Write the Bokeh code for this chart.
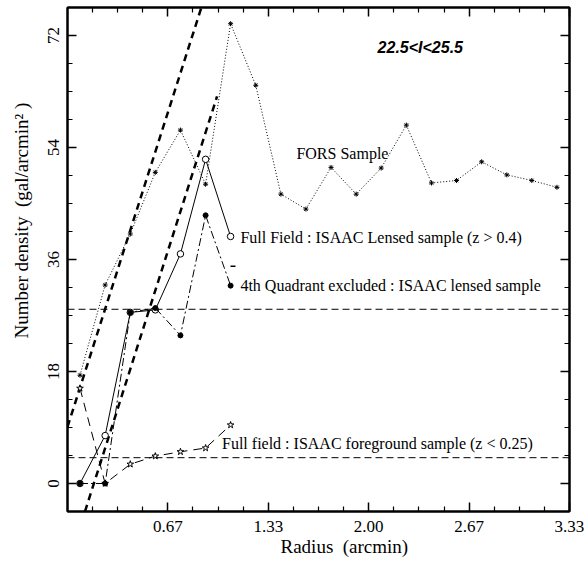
from bokeh.plotting import figure
from bokeh.models import Range1d, LinearAxis, FixedTicker, NumeralTickFormatter, Label, Span, Title
from bokeh.embed import file_html
from bokeh.resources import INLINE

# ---------------- data ----------------
radius = [0.083, 0.25, 0.417, 0.583, 0.75, 0.917, 1.083, 1.25, 1.417, 1.583,
          1.75, 1.917, 2.083, 2.25, 2.417, 2.583, 2.75, 2.917, 3.083, 3.25]
fors_density = [17.4, 31.9, 40.1, 50.0, 56.8, 48.1, 73.9, 64.0, 46.5, 44.1,
                50.8, 46.5, 50.7, 57.6, 48.3, 48.7, 51.7, 49.6, 48.7, 47.6]

isaac_radius = [0.083, 0.25, 0.417, 0.583, 0.75, 0.917, 1.083]
lensed_full = [0.0, 7.7, 27.5, 27.9, 36.9, 52.1, 39.7]
lensed_q4 = [0.0, 0.0, 27.5, 28.2, 23.8, 43.1, 31.8]
foreground = [15.3, 0.0, 3.1, 4.4, 5.1, 5.7, 9.4]

lensed_level = 28.0
foreground_level = 4.15

fit_a_x = [0.0, 0.889]
fit_a_y = [9.1, 76.5]
fit_b_x = [0.116, 0.993]
fit_b_y = [-4.5, 62.2]

mark_x = [1.099]
mark_y = [34.9]

x_major = [0.6667, 1.3333, 2.0, 2.6667, 3.3333]
x_minor = [0.1667, 0.3333, 0.5, 0.8333, 1.0, 1.1667, 1.5, 1.6667, 1.8333,
           2.1667, 2.3333, 2.5, 2.8333, 3.0, 3.1667]
y_major = [0, 18, 36, 54, 72]
y_minor = [-4.5, 4.5, 9, 13.5, 22.5, 27, 31.5, 40.5, 45, 49.5, 58.5, 63, 67.5, 76.5]

NB = "\u00a0"
title_text = "22.5<I<25.5"
fors_label = "FORS Sample"
full_label = "Full Field : ISAAC Lensed sample (z > 0.4)"
q4_label = "4th Quadrant excluded : ISAAC lensed sample"
fg_label = "Full field : ISAAC foreground sample (z < 0.25)"
x_label = "Radius" + NB + NB + "(arcmin)"
y_label = "Number density" + NB + NB + "(gal/arcmin\u00b2" + NB + ")"

SERIF = "Liberation Serif"

# ---------------- figure ----------------
p = figure(width=587, height=563, x_range=Range1d(0, 10 / 3), y_range=Range1d(-4.5, 76.5),
           output_backend="svg", toolbar_location=None,
           min_border_left=67, min_border_right=18, min_border_top=7, min_border_bottom=52)
p.xgrid.visible = False
p.ygrid.visible = False
p.outline_line_color = "black"
p.outline_line_width = 2
p.background_fill_color = "white"
p.border_fill_color = "white"


def style_axis(ax, show):
    ax.axis_line_color = "black"
    ax.axis_line_width = 2
    ax.major_tick_in = 9
    ax.major_tick_out = 0
    ax.minor_tick_in = 5
    ax.minor_tick_out = 0
    ax.major_tick_line_width = 1.5
    ax.minor_tick_line_width = 1.2
    ax.major_tick_line_color = "black"
    ax.minor_tick_line_color = "black"
    if show:
        ax.major_label_text_font = SERIF
        ax.major_label_text_font_size = "17px"
        ax.major_label_text_color = "black"
    else:
        ax.major_label_text_font_size = "1px"
        ax.major_label_text_color = None
        ax.major_label_standoff = 0


xa = p.xaxis[0]
xa.ticker = FixedTicker(ticks=x_major, minor_ticks=x_minor)
xa.formatter = NumeralTickFormatter(format="0.00")
xa.major_label_standoff = 9
style_axis(xa, True)

ya = p.yaxis[0]
ya.ticker = FixedTicker(ticks=y_major, minor_ticks=y_minor)
ya.major_label_orientation = "vertical"
ya.major_label_standoff = 9
style_axis(ya, True)

top = LinearAxis(ticker=FixedTicker(ticks=x_major, minor_ticks=x_minor))
style_axis(top, False)
p.add_layout(top, "above")
right = LinearAxis(ticker=FixedTicker(ticks=y_major, minor_ticks=y_minor))
style_axis(right, False)
p.add_layout(right, "right")

# axis titles (placed off-centre, as in the original)
p.add_layout(Title(text=x_label, align="left", offset=213, vertical_align="top", standoff=2,
                   text_font=SERIF, text_font_size="19px", text_font_style="normal",
                   text_color="black"), "below")
p.add_layout(Title(text=y_label, align="left", offset=173, vertical_align="top", standoff=21,
                   text_font=SERIF, text_font_size="19px", text_font_style="normal",
                   text_color="black"), "left")

# ---------------- glyphs ----------------
p.add_layout(Span(location=lensed_level, dimension="width", line_color="black",
                  line_width=1, line_dash="7 4"))
p.add_layout(Span(location=foreground_level, dimension="width", line_color="black",
                  line_width=1, line_dash="7 4"))

p.line(fit_a_x, fit_a_y, line_color="black", line_width=2.5, line_dash="7 5")
p.line(fit_b_x, fit_b_y, line_color="black", line_width=2.5, line_dash="7 5")

p.line(radius, fors_density, line_color="black", line_width=1, line_dash="1 2")
p.scatter(radius, fors_density, marker="asterisk", size=5, line_color="black", line_width=1)

p.line(isaac_radius, foreground, line_color="black", line_width=1, line_dash="9 6")
p.scatter(isaac_radius, foreground, marker="star", size=7, line_color="black",
          fill_color="white", line_width=1)

p.line(isaac_radius, lensed_full, line_color="black", line_width=1)
p.scatter(isaac_radius, lensed_full, marker="circle", size=6.5, line_color="black",
          fill_color="white", line_width=1)

p.line(isaac_radius, lensed_q4, line_color="black", line_width=1, line_dash="8 3 2 3")
p.scatter(isaac_radius, lensed_q4, marker="circle", size=5, line_color="black",
          fill_color="black")

p.scatter(mark_x, mark_y, marker="dash", size=5, line_color="black", line_width=1.5)

# ---------------- texts ----------------
p.add_layout(Label(x=2.059, y=70.0, text=title_text, text_font="Liberation Sans",
                   text_font_style="bold italic", text_font_size="16px",
                   text_baseline="middle", text_align="left", text_color="black"))
for tx, ty, t in [(1.520, 53.1, fors_label), (1.148, 39.6, full_label),
                  (1.148, 31.9, q4_label), (1.026, 6.35, fg_label)]:
    p.add_layout(Label(x=tx, y=ty, text=t, text_font=SERIF, text_font_size="16px",
                       text_baseline="middle", text_align="left", text_color="black"))

open("out.html", "w").write(file_html(p, INLINE))
